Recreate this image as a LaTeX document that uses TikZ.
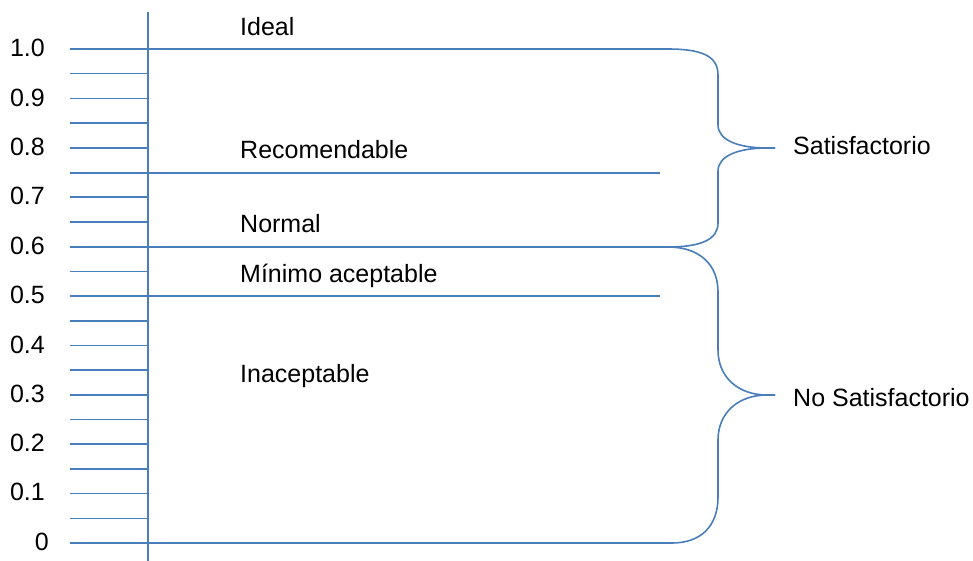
\documentclass[tikz,border=0pt]{standalone}
\usepackage{fontspec}
\setmainfont{Liberation Sans}
\definecolor{scaleblue}{HTML}{4A7EBB}
\begin{document}
\begin{tikzpicture}[x=1pt,y=-1pt,
  scaleline/.style={draw=scaleblue,line width=1.6pt},
  ticklabel/.style={anchor=east,inner sep=0pt,font=\fontsize{25}{30}\selectfont},
  levellabel/.style={anchor=base west,inner sep=0pt,font=\fontsize{25}{30}\selectfont},
]
\useasboundingbox (0,0) rectangle (973,561);

% vertical axis
\coordinate (axtop) at (148,12);
\coordinate (axbot) at (148,561);
\draw[scaleline] (axtop) -- (axbot);

% short ticks every 0.05
\foreach \i in {1,...,19}{
  \coordinate (tl\i) at (70,{49+\i*24.7});
  \coordinate (tr\i) at (148,{49+\i*24.7});
  \draw[scaleline] (tl\i) -- (tr\i);
}

% tick labels
\foreach \v/\y in {1.0/48,0.9/98,0.8/147,0.7/196,0.6/246,0.5/295,0.4/345,0.3/394,0.2/443,0.1/492}{
  \node[ticklabel] (lab\v) at (45,\y) {\v};
}
\node[ticklabel] (lab0) at (49,542) {0};

% level lines
\coordinate (l100a) at (70,49);   \coordinate (l100b) at (667,49);
\coordinate (l75a)  at (70,173);  \coordinate (l75b)  at (660,173);
\coordinate (l60a)  at (70,247);  \coordinate (l60b)  at (668,247);
\coordinate (l50a)  at (70,296);  \coordinate (l50b)  at (660,296);
\coordinate (l00a)  at (70,543);  \coordinate (l00b)  at (672,543);
\draw[scaleline] (l100a) -- (l100b);
\draw[scaleline] (l75a) -- (l75b);
\draw[scaleline] (l60a) -- (l60b);
\draw[scaleline] (l50a) -- (l50b);
\draw[scaleline] (l00a) -- (l00b);

% level names
\node[levellabel] (ideal) at (240,36)  {Ideal};
\node[levellabel] (recom) at (240,159) {Recomendable};
\node[levellabel] (norm)  at (240,233) {Normal};
\node[levellabel] (mini)  at (240,282) {Mínimo aceptable};
\node[levellabel] (inac)  at (240,382) {Inaceptable};

% group names
\node[levellabel] (sat)   at (793,155) {Satisfactorio};
\node[levellabel] (nosat) at (793,406) {No Satisfactorio};

% braces
\coordinate (tip1) at (775,148);
\coordinate (tip2) at (775,395);
\draw[scaleline,line join=round]
  (l100b) .. controls (700,49) and (718,55) .. (718,75) -- (718,125)
  .. controls (718,140) and (738,148) .. (767,148) -- (tip1);
\draw[scaleline,line join=round]
  (tip1) -- (767,148) .. controls (738,148) and (718,156) .. (718,171) -- (718,223)
  .. controls (718,240) and (700,247) .. (l60b);
\draw[scaleline,line join=round]
  (l60b) .. controls (700,247) and (718,265) .. (718,292) -- (718,350)
  .. controls (718,377) and (738,395) .. (767,395) -- (tip2);
\draw[scaleline,line join=round]
  (tip2) -- (767,395) .. controls (738,395) and (718,413) .. (718,440) -- (718,497)
  .. controls (718,527) and (700,543) .. (l00b);
\end{tikzpicture}
\end{document}
